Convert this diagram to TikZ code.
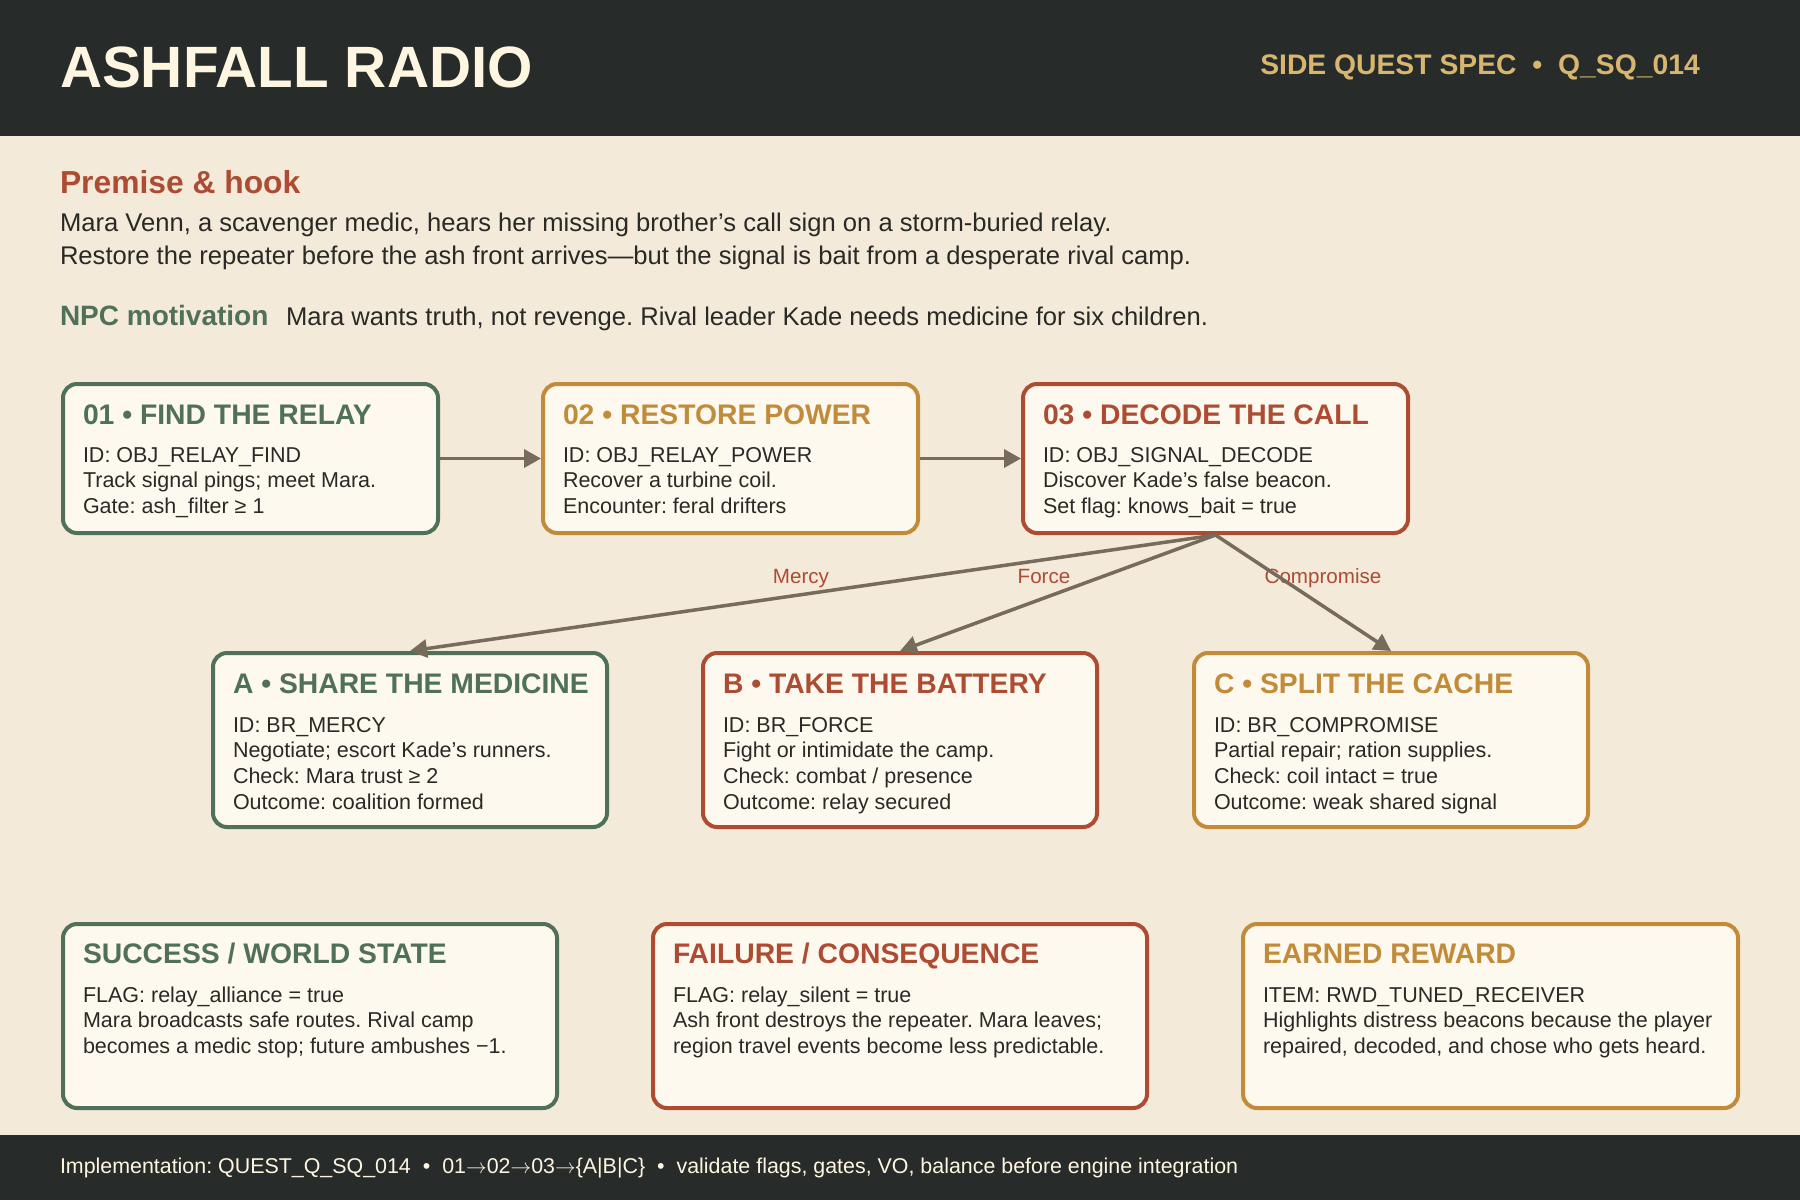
\documentclass[tikz,border=0pt]{standalone}
\usepackage{fontspec}
\setmainfont{Liberation Sans}
\usetikzlibrary{arrows.meta}
\definecolor{headbg}{HTML}{272B2A}
\definecolor{cream}{HTML}{FFF6E2}
\definecolor{subgold}{HTML}{D8B66F}
\definecolor{pagebg}{HTML}{F3EAD9}
\definecolor{boxfill}{HTML}{FDF9EF}
\definecolor{qgreen}{HTML}{51705A}
\definecolor{qgold}{HTML}{C28B3A}
\definecolor{qrust}{HTML}{AE4B33}
\definecolor{arrowc}{HTML}{776B5C}
\definecolor{inkc}{HTML}{2A2926}
\newcommand\qfs[2]{\fontsize{#1bp}{#2bp}\selectfont}
\newcommand\qsep{\hspace{0.56em}•\hspace{0.56em}}
\newcommand\qto{\ensuremath{\rightarrow}}
\frenchspacing
\begin{document}
\frenchspacing
\begin{tikzpicture}[x=1bp,y=-1bp,
  txt/.style={anchor=base west,inner sep=0pt,outer sep=0pt,align=left},
  card/.style={draw=#1,line width=4bp,rounded corners=14bp,fill=boxfill,inner sep=0pt,outer sep=2bp,anchor=north west},
  cardtitle/.style={txt,text=#1,font=\qfs{28.3}{32}\bfseries},
  cardbody/.style={txt,text=inkc,font=\qfs{21.5}{25.8}},
  flow/.style={draw=arrowc,line width=3.5bp,-{Triangle[length=17bp,width=18bp]}},
  branchlbl/.style={anchor=base,inner sep=0pt,text=qrust,font=\qfs{20.6}{24}}]
\useasboundingbox (0,0) rectangle (1800,1200);
\fill[pagebg] (0,0) rectangle (1800,1200);
\fill[headbg] (0,0) rectangle (1800,136);
\fill[headbg] (0,1135) rectangle (1800,1200);

% header
\node[txt,text=cream,font=\qfs{58.3}{64}\bfseries] (title) at (60,87) {ASHFALL RADIO};
\node[anchor=base east,inner sep=0pt,text=subgold,font=\qfs{28.3}{32}\bfseries] (sub) at (1700,74) {SIDE QUEST SPEC\qsep Q\_SQ\_014};

% premise (multi-line nodes are anchored at the baseline of their last line)
\node[txt,text=qrust,font=\qfs{31.8}{36}\bfseries] (premh) at (60,193) {Premise \& hook};
\node[txt,text=inkc,font=\qfs{25.6}{33}] (premb) at (60,264) {Mara Venn, a scavenger medic, hears her missing brother’s call sign on a storm-buried relay.\\Restore the repeater before the ash front arrives—but the signal is bait from a desperate rival camp.};
\node[txt,text=qgreen,font=\qfs{28}{32}\bfseries] (npch) at (60,325) {NPC motivation};
\node[txt,text=inkc,font=\qfs{25.6}{33}] (npcb) at (286,325) {Mara wants truth, not revenge. Rival leader Kade needs medicine for six children.};

% row 1
\node[card=qgreen,minimum width=375bp,minimum height=149bp] (n01) at (61,382) {};
\node[card=qgold,minimum width=375bp,minimum height=149bp] (n02) at (541,382) {};
\node[card=qrust,minimum width=385bp,minimum height=149bp] (n03) at (1021,382) {};
\node[cardtitle=qgreen] (t01) at (83,424) {01 • FIND THE RELAY};
\node[cardbody] (b01) at (83,513.6) {ID: OBJ\_RELAY\_FIND\\Track signal pings; meet Mara.\\Gate: ash\_filter ≥ 1};
\node[cardtitle=qgold] (t02) at (563,424) {02 • RESTORE POWER};
\node[cardbody] (b02) at (563,513.6) {ID: OBJ\_RELAY\_POWER\\Recover a turbine coil.\\Encounter: feral drifters};
\node[cardtitle=qrust] (t03) at (1043,424) {03 • DECODE THE CALL};
\node[cardbody] (b03) at (1043,513.6) {ID: OBJ\_SIGNAL\_DECODE\\Discover Kade’s false beacon.\\Set flag: knows\_bait = true};

% row 2
\node[card=qgreen,minimum width=394bp,minimum height=174bp] (nA) at (211,651) {};
\node[card=qrust,minimum width=394bp,minimum height=174bp] (nB) at (701,651) {};
\node[card=qgold,minimum width=394bp,minimum height=174bp] (nC) at (1192,651) {};
\node[cardtitle=qgreen] (tA) at (233,693) {A • SHARE THE MEDICINE};
\node[cardbody] (bA) at (233,809.4) {ID: BR\_MERCY\\Negotiate; escort Kade’s runners.\\Check: Mara trust ≥ 2\\Outcome: coalition formed};
\node[cardtitle=qrust] (tB) at (723,693) {B • TAKE THE BATTERY};
\node[cardbody] (bB) at (723,809.4) {ID: BR\_FORCE\\Fight or intimidate the camp.\\Check: combat / presence\\Outcome: relay secured};
\node[cardtitle=qgold] (tC) at (1214,693) {C • SPLIT THE CACHE};
\node[cardbody] (bC) at (1214,809.4) {ID: BR\_COMPROMISE\\Partial repair; ration supplies.\\Check: coil intact = true\\Outcome: weak shared signal};

% row 3
\node[card=qgreen,minimum width=494bp,minimum height=184bp] (nS) at (61,922) {};
\node[card=qrust,minimum width=494bp,minimum height=184bp] (nF) at (651,922) {};
\node[card=qgold,minimum width=495bp,minimum height=184bp] (nR) at (1241,922) {};
\node[cardtitle=qgreen] (tS) at (83,963) {SUCCESS / WORLD STATE};
\node[cardbody] (bS) at (83,1053.6) {FLAG: relay\_alliance = true\\Mara broadcasts safe routes. Rival camp\\becomes a medic stop; future ambushes −1.};
\node[cardtitle=qrust] (tF) at (673,963) {FAILURE / CONSEQUENCE};
\node[cardbody] (bF) at (673,1053.6) {FLAG: relay\_silent = true\\Ash front destroys the repeater. Mara leaves;\\region travel events become less predictable.};
\node[cardtitle=qgold] (tR) at (1263,963) {EARNED REWARD};
\node[cardbody] (bR) at (1263,1053.6) {ITEM: RWD\_TUNED\_RECEIVER\\Highlights distress beacons because the player\\repaired, decoded, and chose who gets heard.};

% branch labels
\node[branchlbl] (lM) at (801,583) {Mercy};
\node[branchlbl] (lF) at (1044,583) {Force};
\node[branchlbl] (lC) at (1323,583) {Compromise};

% connectors
\draw[flow] (n01.east) -- (n02.west);
\draw[flow] (n02.east) -- (n03.west);
\draw[flow] (n03.south) -- (nA.north);
\draw[flow] (n03.south) -- (nB.north);
\draw[flow] (n03.south) -- (nC.north);

% footer
\node[txt,text=cream,font=\qfs{21.4}{24}] (foot) at (60,1173) {Implementation: QUEST\_Q\_SQ\_014\qsep 01\qto 02\qto 03\qto\{A|B|C\}\qsep validate flags, gates, VO, balance before engine integration};
\end{tikzpicture}
\end{document}
